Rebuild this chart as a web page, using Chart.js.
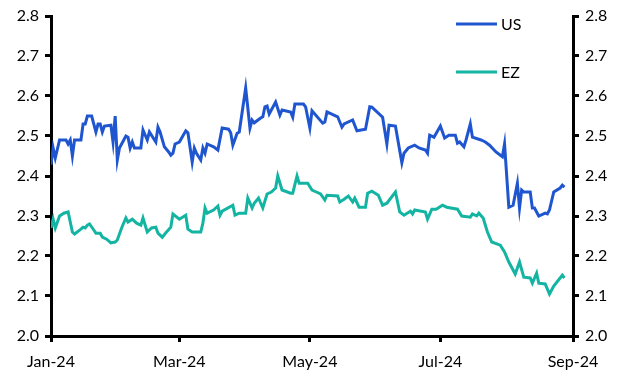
<!DOCTYPE html>
<html>
<head>
<meta charset="utf-8">
<script src="https://cdn.jsdelivr.net/npm/chart.js@4"></script>
<style>
  html, body { margin: 0; padding: 0; background: #fff; }
  #wrap { width: 628px; height: 383px; }
</style>
</head>
<body>
<div id="wrap"><canvas id="chart" width="628" height="383"></canvas></div>
<script>
// days since 1 Jan 2024
const usDays = [0,1,2,4,7,8,9,10,11,14,15,16,17,19,21,22,23,24,25,28,29,30,31,32,35,36,37,38,39,42,43,45,46,49,50,51,53,55,56,57,58,60,63,64,66,67,68,70,71,72,73,76,78,80,83,84,85,87,88,91,93,94,95,98,99,100,101,102,105,107,108,112,113,114,118,119,121,122,127,128,129,134,136,137,141,143,147,149,150,155,157,158,161,164,165,167,170,172,175,176,177,179,182,184,186,189,190,191,193,194,196,197,201,203,205,208,211,212,214,216,218,219,220,221,224,225,226,228,231,232,233,235,238,239,240];
const usValues = [2.428,2.47,2.445,2.49,2.49,2.48,2.49,2.45,2.49,2.49,2.53,2.53,2.55,2.55,2.51,2.53,2.53,2.51,2.525,2.527,2.485,2.55,2.44,2.47,2.50,2.497,2.47,2.485,2.47,2.47,2.515,2.49,2.51,2.485,2.522,2.51,2.473,2.46,2.452,2.457,2.48,2.485,2.513,2.508,2.435,2.47,2.457,2.44,2.47,2.457,2.48,2.473,2.465,2.52,2.517,2.508,2.477,2.507,2.51,2.62,2.52,2.54,2.533,2.545,2.548,2.573,2.575,2.555,2.585,2.552,2.565,2.56,2.547,2.58,2.58,2.573,2.52,2.563,2.532,2.535,2.56,2.548,2.522,2.53,2.54,2.513,2.517,2.573,2.572,2.547,2.48,2.527,2.525,2.433,2.457,2.47,2.477,2.47,2.465,2.457,2.502,2.497,2.525,2.495,2.502,2.502,2.482,2.485,2.473,2.49,2.53,2.497,2.49,2.485,2.477,2.46,2.448,2.48,2.322,2.327,2.382,2.32,2.365,2.36,2.36,2.32,2.32,2.30,2.307,2.305,2.315,2.36,2.37,2.377,2.372];

const ezDays = [0,1,2,4,6,8,10,11,14,15,16,17,18,20,21,23,24,26,28,30,31,33,35,36,38,40,42,43,45,47,49,50,52,54,56,57,60,63,64,66,70,71,72,73,76,78,79,80,85,86,88,91,92,94,95,97,99,101,103,105,106,108,112,113,115,116,120,122,124,126,128,129,134,135,137,139,141,142,144,147,148,150,153,155,157,161,163,165,168,169,170,175,176,178,180,183,185,190,192,196,197,199,200,202,204,206,210,212,214,217,219,221,224,225,227,228,231,233,235,239,240];
const ezValues = [2.27,2.292,2.27,2.30,2.307,2.31,2.26,2.255,2.267,2.272,2.27,2.277,2.28,2.265,2.257,2.257,2.247,2.242,2.233,2.235,2.24,2.27,2.295,2.285,2.292,2.282,2.277,2.295,2.26,2.27,2.272,2.257,2.247,2.26,2.272,2.305,2.292,2.302,2.267,2.26,2.26,2.282,2.32,2.307,2.315,2.325,2.302,2.312,2.327,2.302,2.307,2.307,2.345,2.32,2.332,2.345,2.32,2.355,2.36,2.37,2.40,2.365,2.357,2.357,2.40,2.382,2.382,2.365,2.36,2.355,2.34,2.352,2.35,2.335,2.342,2.35,2.335,2.345,2.322,2.322,2.357,2.362,2.352,2.327,2.332,2.36,2.31,2.302,2.312,2.305,2.315,2.31,2.292,2.317,2.317,2.327,2.322,2.317,2.30,2.297,2.305,2.30,2.307,2.295,2.26,2.235,2.227,2.21,2.185,2.155,2.185,2.147,2.145,2.132,2.157,2.132,2.13,2.105,2.125,2.152,2.145];

const xTickDays = [0, 60, 121, 182, 244];
const xTickLabels = ['Jan-24', 'Mar-24', 'May-24', 'Jul-24', 'Sep-24'];
const yTicks = [2.0, 2.1, 2.2, 2.3, 2.4, 2.5, 2.6, 2.7, 2.8];

const FONT = { family: 'Lato, "Open Sans", sans-serif', size: 16 };

function pts(days, vals) {
  return days.map((d, i) => ({ x: d, y: vals[i] }));
}

// small legend drawn inside the plot, top right
const insideLegend = {
  id: 'insideLegend',
  afterDraw(chart) {
    const ctx = chart.ctx;
    const x0 = 456, x1 = 497;
    const rows = [24, 72];
    ctx.save();
    chart.data.datasets.forEach((ds, i) => {
      const y = rows[i];
      ctx.strokeStyle = ds.borderColor;
      ctx.lineWidth = 3;
      ctx.beginPath();
      ctx.moveTo(x0, y);
      ctx.lineTo(x1, y);
      ctx.stroke();
      ctx.fillStyle = '#000';
      ctx.font = FONT.size + 'px ' + FONT.family;
      ctx.textBaseline = 'middle';
      ctx.fillText(ds.label, x1 + 4, y + 1);
    });
    ctx.restore();
  }
};

const axisLine = { display: true, width: 3, color: '#000' };
const tickMarks = { display: true, drawOnChartArea: false, drawTicks: true, tickLength: 6, color: '#000', lineWidth: 3 };

new Chart(document.getElementById('chart'), {
  type: 'line',
  data: {
    datasets: [
      { label: 'US', data: pts(usDays, usValues), borderColor: '#1f56cf', borderWidth: 3, pointRadius: 0, tension: 0, yAxisID: 'y' },
      { label: 'EZ', data: pts(ezDays, ezValues), borderColor: '#14b4a3', borderWidth: 3, pointRadius: 0, tension: 0, yAxisID: 'y' }
    ]
  },
  options: {
    responsive: false,
    animation: false,
    layout: { padding: { top: 16, left: 0, right: 0, bottom: 0 } },
    plugins: { legend: { display: false }, tooltip: { enabled: false } },
    scales: {
      x: {
        type: 'linear',
        min: 0,
        max: 244,
        border: axisLine,
        grid: tickMarks,
        afterBuildTicks: (axis) => { axis.ticks = xTickDays.map(v => ({ value: v })); },
        afterFit: (axis) => { axis.height = 47; },
        ticks: {
          color: '#000',
          font: FONT,
          padding: 10,
          maxRotation: 0,
          callback: (v) => xTickLabels[xTickDays.indexOf(v)]
        }
      },
      y: {
        position: 'left',
        min: 2.0,
        max: 2.8,
        border: axisLine,
        grid: tickMarks,
        afterBuildTicks: (axis) => { axis.ticks = yTicks.map(v => ({ value: v })); },
        afterFit: (axis) => { axis.width = 51; },
        ticks: { color: '#000', font: FONT, padding: 6, callback: (v) => v.toFixed(1) }
      },
      y2: {
        position: 'right',
        display: true,
        min: 2.0,
        max: 2.8,
        border: axisLine,
        grid: tickMarks,
        afterBuildTicks: (axis) => { axis.ticks = yTicks.map(v => ({ value: v })); },
        afterFit: (axis) => { axis.width = 55; },
        ticks: { color: '#000', font: FONT, padding: 6, callback: (v) => v.toFixed(1) }
      }
    }
  },
  plugins: [insideLegend]
});
</script>
</body>
</html>
